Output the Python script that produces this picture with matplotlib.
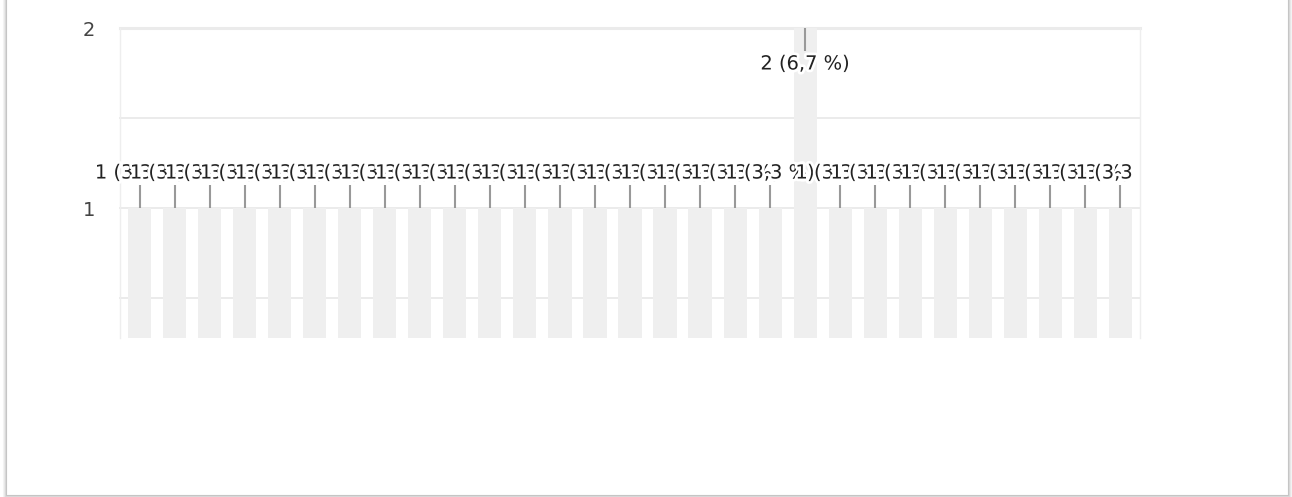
import matplotlib
matplotlib.use('Agg')
import matplotlib.pyplot as plt
import matplotlib.patheffects as pe
from matplotlib.patches import Rectangle
from matplotlib.lines import Line2D
import numpy as np

# responses per option (30 answers in total)
values = [1, 1, 1, 1, 1, 1, 1, 1, 1, 1,
          1, 1, 1, 1, 1, 1, 1, 1, 1, 2,
          1, 1, 1, 1, 1, 1, 1, 1, 1]
ytick_values = [1, 2]
ytick_labels = ['1', '2']
grid_values = [0.5, 1, 1.5, 2]

W, H = 1292, 497
total = sum(values)
x = np.arange(len(values))

fig = plt.figure(figsize=(W / 100, H / 100), dpi=100)
fig.patch.set_facecolor('white')
ax = fig.add_axes([120 / W, 1 - 338 / H, 1020 / W, 310 / H])

ymin, ymax = 0.278, 2
ax.set_xlim(-0.56, len(values) - 0.44)
ax.set_ylim(ymin, ymax)
px = (ymax - ymin) / 310  # data units per pixel

# grid
for g in grid_values:
    ax.axhline(g, color='#ebebeb', lw=2.2 if g == ymax else 1.4, zorder=1, clip_on=False)

# bars
ax.bar(x, values, width=0.66, color='#efefef', zorder=2)

# spines / ticks
for s in ['top', 'bottom']:
    ax.spines[s].set_visible(False)
for s in ['left', 'right']:
    ax.spines[s].set_color('#eeeeee')
    ax.spines[s].set_linewidth(1)
ax.set_xticks([])
ax.set_yticks(ytick_values)
ax.set_yticklabels(ytick_labels, fontsize=14, color='#444444', family='DejaVu Sans')
ax.tick_params(axis='y', length=0, pad=18)

# annotations
clip = Rectangle((60 / W, 0), (1134 - 60) / W, 1, transform=fig.transFigure)
for i, v in enumerate(values):
    label = f'{v} ({v / total * 100:.1f} %)'.replace('.', ',')
    if v + 50 * px <= ymax:
        y0, y1, yt = v, v + 23 * px, v + 35 * px
    else:
        y0, y1, yt = v, v - 23 * px, v - 36 * px
    ax.plot([i, i], [y0, y1], color='#999999', lw=1.5, zorder=3, clip_on=False,
            solid_capstyle='butt')
    t = ax.text(i, yt, label, ha='center', va='center', fontsize=14, color='#222222',
                family='DejaVu Sans', zorder=4 + i,
                path_effects=[pe.withStroke(linewidth=4, foreground='white')])
    t.set_clip_path(clip)
    t.set_clip_on(True)

# card border with a soft shadow
for off, c in [(0, '#c4c4c4'), (1, '#d8d8d8'), (2, '#e8e8e8'), (3, '#f3f3f3')]:
    xl = (5.5 - off) / W
    xr = (1287.5 + off) / W
    yb = 1 - (494.5 + off) / H
    fig.add_artist(Line2D([xl, xl, xr, xr], [1, yb, yb, 1], color=c, lw=0.8,
                          transform=fig.transFigure))

fig.savefig('out.png', dpi=100, facecolor='white')
